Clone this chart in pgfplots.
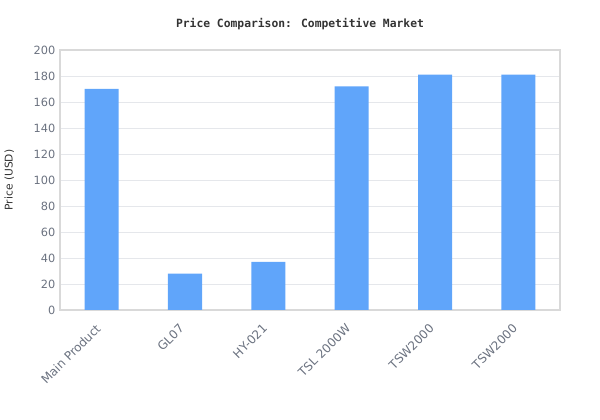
\documentclass[border=0pt]{standalone}
\usepackage{pgfplots}
\pgfplotsset{compat=1.18}
\usepackage{fontspec}
\setmainfont{DejaVu Sans}
\newfontfamily\titlefont{DejaVu Sans Mono}

\definecolor{barblue}{HTML}{60A5FA}
\definecolor{ticktext}{HTML}{6B7280}
\definecolor{gridgray}{HTML}{E5E7EB}
\definecolor{framegray}{HTML}{D9D9D9}
\definecolor{titletext}{HTML}{333333}

\begin{document}
\begin{tikzpicture}
\path[use as bounding box] (-45pt,-82.5pt) rectangle (405pt,232.5pt);
\begin{axis}[
    at={(0,0)}, anchor=south west,
    scale only axis,
    width=375pt, height=195pt,
    xmin=-0.5, xmax=5.5,
    ymin=0, ymax=200,
    ytick={0,20,...,200},
    xtick={0,1,2,3,4,5},
    xticklabels={Main Product, GL07, HY-021, TSL 2000W, TSW2000, TSW2000},
    x tick label style={rotate=45, anchor=north east, font=\fontsize{9}{10}\selectfont, text=ticktext, xshift=-7pt},
    y tick label style={font=\fontsize{8.5}{10}\selectfont, text=ticktext},
    /pgf/number format/assume math mode=true,
    major tick length=0pt,
    ymajorgrids,
    grid style={gridgray, line width=0.6pt},
    axis line style={framegray, line width=0.8pt},
    ylabel={Price (USD)},
    ylabel style={font=\fontsize{8}{9}\selectfont, text=titletext, at={(axis description cs:0,0.5)}, anchor=south, yshift=31pt},
    ybar, bar width=25.5pt,
]
\addplot[fill=barblue, draw=none] coordinates {
    (0,170) (1,28) (2,37) (3,172) (4,181) (5,181)
};
\end{axis}
\node[font=\titlefont\bfseries\fontsize{8.5}{10}\selectfont, text=titletext] at (180pt,214.5pt) {Price Comparison: Competitive Market};
\end{tikzpicture}
\end{document}
